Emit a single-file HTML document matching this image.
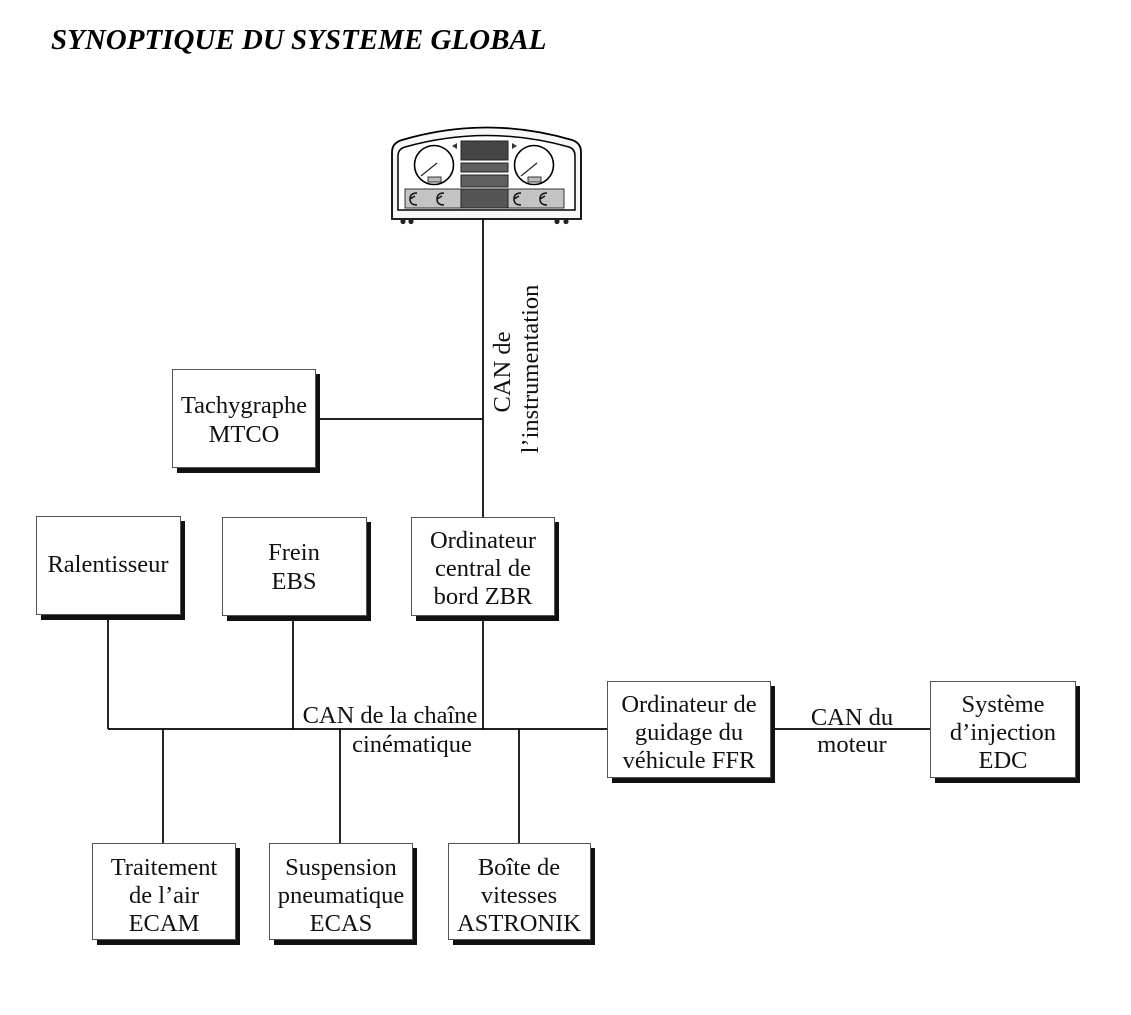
<!DOCTYPE html>
<html>
<head>
<meta charset="utf-8">
<style>
  html,body{margin:0;padding:0;background:#fff;}
  body{width:1131px;height:1015px;overflow:hidden;}
  svg{display:block;}
  .t{font-family:"Liberation Serif",serif;font-size:24.5px;fill:#111;}
  .title{font-family:"Liberation Serif",serif;font-size:29px;font-weight:bold;font-style:italic;fill:#000;}
</style>
</head>
<body>
<svg width="1131" height="1015" viewBox="0 0 1131 1015" xmlns="http://www.w3.org/2000/svg">
  <rect x="0" y="0" width="1131" height="1015" fill="#fff"/>

  <text class="title" x="51" y="49">SYNOPTIQUE DU SYSTEME GLOBAL</text>

  <!-- Connector lines -->
  <g stroke="#000" stroke-width="1.7" fill="none">
    <line x1="483" y1="219" x2="483" y2="517"/>
    <line x1="315" y1="419" x2="483" y2="419"/>
    <line x1="108" y1="614" x2="108" y2="729"/>
    <line x1="293" y1="615" x2="293" y2="729"/>
    <line x1="483" y1="615" x2="483" y2="729"/>
    <line x1="108" y1="729" x2="607" y2="729"/>
    <line x1="770" y1="729" x2="930" y2="729"/>
    <line x1="163" y1="729" x2="163" y2="843"/>
    <line x1="340" y1="729" x2="340" y2="843"/>
    <line x1="519" y1="729" x2="519" y2="843"/>
  </g>

  <!-- Dashboard -->
  <g>
    <path d="M392,219 L392,152 Q392,143 402,140 Q487,115 572,140 Q581,143 581,152 L581,219 Z" fill="#f7f7f7" stroke="#000" stroke-width="1.8"/>
    <path d="M398,210 L398,156 Q398,149 405,147 Q487,124 569,147 Q575,149 575,156 L575,210 Z" fill="#fff" stroke="#000" stroke-width="1.5"/>
    <rect x="405" y="189" width="159" height="19" fill="#c4c4c4" stroke="#333" stroke-width="1"/>
    <rect x="461" y="189" width="47" height="19" fill="#555" stroke="#222" stroke-width="1"/>
    <rect x="461" y="141" width="47" height="19" fill="#454545" stroke="#222" stroke-width="1"/>
    <rect x="461" y="163" width="47" height="9" fill="#5e5e5e" stroke="#222" stroke-width="1"/>
    <rect x="461" y="175" width="47" height="12" fill="#5e5e5e" stroke="#222" stroke-width="1"/>
    <circle cx="434" cy="165" r="19.5" fill="#fff" stroke="#000" stroke-width="1.6"/>
    <circle cx="534" cy="165" r="19.5" fill="#fff" stroke="#000" stroke-width="1.6"/>
    <line x1="421" y1="176" x2="437" y2="163" stroke="#222" stroke-width="1.2"/>
    <line x1="521" y1="176" x2="537" y2="163" stroke="#222" stroke-width="1.2"/>
    <rect x="428" y="177" width="13" height="5" fill="#bbb" stroke="#333" stroke-width="1"/>
    <rect x="528" y="177" width="13" height="5" fill="#bbb" stroke="#333" stroke-width="1"/>
    <polygon points="452,146 457,143 457,149" fill="#333"/>
    <polygon points="517,146 512,143 512,149" fill="#333"/>
    <g stroke="#111" stroke-width="1.5" fill="none">
      <path d="M417,193 Q410,193 410,199 Q410,205 417,205 M410,199 L415,196"/>
      <path d="M444,193 Q437,193 437,199 Q437,205 444,205 M437,199 L442,196"/>
      <path d="M521,193 Q514,193 514,199 Q514,205 521,205 M514,199 L519,196"/>
      <path d="M547,193 Q540,193 540,199 Q540,205 547,205 M540,199 L545,196"/>
    </g>
    <g fill="#222">
      <circle cx="403" cy="221.5" r="2.6"/>
      <circle cx="411" cy="221.5" r="2.6"/>
      <circle cx="557" cy="221.5" r="2.6"/>
      <circle cx="566" cy="221.5" r="2.6"/>
    </g>
  </g>

  <!-- Vertical label -->
  <text class="t" text-anchor="middle" transform="translate(510,372) rotate(-90)">CAN de</text>
  <text class="t" text-anchor="middle" transform="translate(538,369) rotate(-90)">l’instrumentation</text>

  <!-- Boxes: shadows -->
  <g fill="#111">
    <rect x="177" y="374" width="143" height="99"/>
    <rect x="41" y="521" width="144" height="99"/>
    <rect x="227" y="522" width="144" height="99"/>
    <rect x="416" y="522" width="143" height="99"/>
    <rect x="612" y="686" width="163" height="97"/>
    <rect x="935" y="686" width="145" height="97"/>
    <rect x="97" y="848" width="143" height="97"/>
    <rect x="274" y="848" width="143" height="97"/>
    <rect x="453" y="848" width="142" height="97"/>
  </g>
  <!-- Boxes -->
  <g fill="#fff" stroke="#555" stroke-width="1">
    <rect x="172.5" y="369.5" width="143" height="98"/>
    <rect x="36.5" y="516.5" width="144" height="98"/>
    <rect x="222.5" y="517.5" width="144" height="98"/>
    <rect x="411.5" y="517.5" width="143" height="98"/>
    <rect x="607.5" y="681.5" width="163" height="96"/>
    <rect x="930.5" y="681.5" width="145" height="96"/>
    <rect x="92.5" y="843.5" width="143" height="96"/>
    <rect x="269.5" y="843.5" width="143" height="96"/>
    <rect x="448.5" y="843.5" width="142" height="96"/>
  </g>

  <!-- Box texts -->
  <g class="t" text-anchor="middle">
    <text x="244" y="413">Tachygraphe</text>
    <text x="244" y="442">MTCO</text>

    <text x="108" y="572">Ralentisseur</text>

    <text x="294" y="560">Frein</text>
    <text x="294" y="589">EBS</text>

    <text x="483" y="548">Ordinateur</text>
    <text x="483" y="576">central de</text>
    <text x="483" y="604">bord ZBR</text>

    <text x="689" y="712">Ordinateur de</text>
    <text x="689" y="740">guidage du</text>
    <text x="689" y="768">véhicule FFR</text>

    <text x="1003" y="712">Système</text>
    <text x="1003" y="740">d’injection</text>
    <text x="1003" y="768">EDC</text>

    <text x="164" y="875">Traitement</text>
    <text x="164" y="903">de l’air</text>
    <text x="164" y="931">ECAM</text>

    <text x="341" y="875">Suspension</text>
    <text x="341" y="903">pneumatique</text>
    <text x="341" y="931">ECAS</text>

    <text x="519" y="875">Boîte de</text>
    <text x="519" y="903">vitesses</text>
    <text x="519" y="931">ASTRONIK</text>

    <text x="390" y="723">CAN de la chaîne</text>
    <text x="412" y="752">cinématique</text>

    <text x="852" y="725">CAN du</text>
    <text x="852" y="752">moteur</text>
  </g>
</svg>
</body>
</html>
